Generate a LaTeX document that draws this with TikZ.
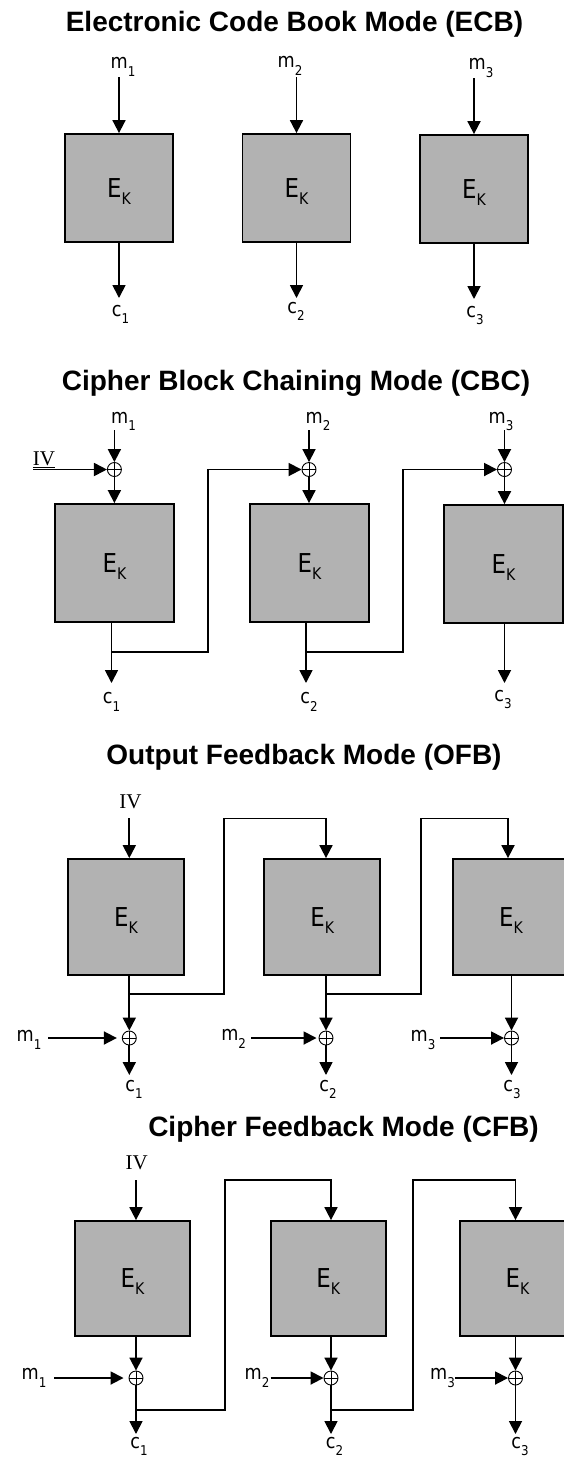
\documentclass[tikz,border=0pt]{standalone}
\usepackage{fontspec}
\setmainfont{Liberation Sans}
\newfontfamily\titlefont{Liberation Sans}
\newfontfamily\labfam[FakeStretch=0.88]{DejaVu Sans}
\newfontfamily\ivfam{Liberation Serif}
\usetikzlibrary{arrows.meta}
\definecolor{boxgray}{RGB}{178,178,178}
\newcommand{\Lab}[2]{#1\smash{\raisebox{-7.5pt}{\fontsize{13.5}{13.5}\selectfont #2}}}
\newcommand{\Ek}{E\smash{\raisebox{-7pt}{\fontsize{16}{16}\selectfont K}}}
\begin{document}
\begin{tikzpicture}[x=1pt,y=-1pt,
  arr/.style={line width=1.8pt, -{Triangle[length=13pt,width=13pt]}},
  ek/.style={draw=black, line width=1.8pt, fill=boxgray, inner sep=0pt, font={\labfam\fontsize{26}{26}\selectfont}},
  ecbbox/.style={ek, minimum width=108pt, minimum height=108pt},
  cbcbox/.style={ek, minimum width=119pt, minimum height=118pt},
  ofbbox/.style={ek, minimum width=116pt, minimum height=116pt},
  cfbbox/.style={ek, minimum width=115pt, minimum height=115pt},
  lab/.style={inner sep=0pt, font={\labfam\fontsize{20}{20}\selectfont}},
  ttl/.style={inner sep=0pt, anchor=base, font={\titlefont\bfseries\fontsize{28}{28}\selectfont}},
  ivlab/.style={inner sep=0pt, font={\ivfam\fontsize{21}{21}\selectfont}},
  xor/.style={circle, draw=black, line width=0.9pt, minimum size=14pt, inner sep=0pt,
    path picture={\draw[line width=0.9pt] (path picture bounding box.north) -- (path picture bounding box.south)
      (path picture bounding box.west) -- (path picture bounding box.east);}},
]
\useasboundingbox (0,0) rectangle (564,1460);
\clip (0,0) rectangle (564,1460);
\fill[white] (0,0) rectangle (564,1460);

% ================= ECB =================
\node[ttl] (tecb) at (294.5,31) {Electronic Code Book Mode (ECB)};
\node[lab] (em1) at (123,63) {\Lab{m}{1}};
\node[lab] (em2) at (290,62) {\Lab{m}{2}};
\node[lab] (em3) at (481,64) {\Lab{m}{3}};
\node[ecbbox] (eb1) at (119,188) {\Ek};
\node[ecbbox] (eb2) at (296.5,188) {\Ek};
\node[ecbbox] (eb3) at (474,189) {\Ek};
\coordinate (es1) at (119,77);
\coordinate (es2) at (296.5,77);
\coordinate (es3) at (474,78);
\draw[arr] (es1) -- (eb1.north);
\draw[arr] (es2) -- (eb2.north);
\draw[arr] (es3) -- (eb3.north);
\coordinate (ee1) at (119,298);
\coordinate (ee2) at (296.5,298);
\coordinate (ee3) at (474,299);
\draw[arr] (eb1.south) -- (ee1);
\draw[arr] (eb2.south) -- (ee2);
\draw[arr] (eb3.south) -- (ee3);
\node[lab] (ec1) at (120.5,311) {\Lab{c}{1}};
\node[lab] (ec2) at (296,308) {\Lab{c}{2}};
\node[lab] (ec3) at (475,312) {\Lab{c}{3}};

% ================= CBC =================
\node[ttl] (tcbc) at (296,390.5) {Cipher Block Chaining Mode (CBC)};
\node[lab] (cm1) at (123.5,417.5) {\Lab{m}{1}};
\node[lab] (cm2) at (318,417.5) {\Lab{m}{2}};
\node[lab] (cm3) at (501,417.5) {\Lab{m}{3}};
\node[xor] (cx1) at (114.4,469.5) {};
\node[xor] (cx2) at (309,469.5) {};
\node[xor] (cx3) at (504.5,469.5) {};
\coordinate (cs1) at (114.4,430);
\coordinate (cs2) at (309,430);
\coordinate (cs3) at (504.5,430);
\draw[arr] (cs1) -- (cx1);
\draw[arr] (cs2) -- (cx2);
\draw[arr] (cs3) -- (cx3);
\node[cbcbox] (cb1) at (114.5,563) {\Ek};
\node[cbcbox] (cb2) at (309.5,563) {\Ek};
\node[cbcbox] (cb3) at (503.5,564) {\Ek};
\draw[arr] (cx1) -- (cx1 |- cb1.north);
\draw[arr] (cx2) -- (cx2 |- cb2.north);
\draw[arr] (cx3) -- (cx3 |- cb3.north);
\node[ivlab, anchor=base] (civ) at (44,465) {\underline{IV}};
\coordinate (civs) at (33,469.5);
\draw[arr] (civs) -- (cx1);
\coordinate (co1) at (111.5,683);
\coordinate (co2) at (306,683);
\coordinate (co3) at (504.5,683);
\draw[arr] (co1 |- cb1.south) -- (co1);
\draw[arr] (co2 |- cb2.south) -- (co2);
\draw[arr] (co3 |- cb3.south) -- (co3);
\coordinate (cj1) at (111.5,652);
\coordinate (ck1) at (208,652);
\coordinate (cj2) at (306,652);
\coordinate (ck2) at (403,652);
\draw[arr] (cj1) -- (ck1) |- (cx2);
\draw[arr] (cj2) -- (ck2) |- (cx3);
\node[lab] (cc1) at (111.5,698.5) {\Lab{c}{1}};
\node[lab] (cc2) at (309,698.5) {\Lab{c}{2}};
\node[lab] (cc3) at (503,696) {\Lab{c}{3}};

% ================= OFB =================
\node[ttl] (tofb) at (304,764) {Output Feedback Mode (OFB)};
\node[ivlab] (oiv) at (130.5,801.5) {IV};
\node[ofbbox] (ob1) at (126,917) {\Ek};
\node[ofbbox] (ob2) at (322.3,917) {\Ek};
\node[ofbbox] (ob3) at (511,917) {\Ek};
\coordinate (os1) at (129.3,818);
\draw[arr] (os1) -- (os1 |- ob1.north);
\coordinate (oj1) at (129.3,994);
\coordinate (ok1) at (224,994);
\coordinate (ot1) at (326,818.5);
\coordinate (oj2) at (326,994);
\coordinate (ok2) at (421,994);
\coordinate (ot2) at (508,818.5);
\draw[arr] (oj1) -- (ok1) |- (ot1) -- (ot1 |- ob2.north);
\draw[arr] (oj2) -- (ok2) |- (ot2) -- (ot2 |- ob3.north);
\node[xor] (ox1) at (129.3,1038) {};
\node[xor] (ox2) at (326,1038) {};
\node[xor] (ox3) at (511.5,1038) {};
\draw[arr] (ox1 |- ob1.south) -- (ox1);
\draw[arr] (ox2 |- ob2.south) -- (ox2);
\draw[arr] (ox3 |- ob3.south) -- (ox3);
\node[lab] (om1) at (29,1036) {\Lab{m}{1}};
\node[lab] (om2) at (233.7,1035) {\Lab{m}{2}};
\node[lab] (om3) at (423,1036) {\Lab{m}{3}};
\coordinate (oma1) at (48,1038);
\coordinate (oma2) at (251,1038);
\coordinate (oma3) at (440,1038);
\draw[arr, shorten >=5pt] (oma1) -- (ox1);
\draw[arr, shorten >=2pt] (oma2) -- (ox2);
\draw[arr] (oma3) -- (ox3);
\coordinate (oe1) at (129.3,1075);
\coordinate (oe2) at (326,1075);
\coordinate (oe3) at (511.5,1075);
\draw[arr] (ox1) -- (oe1);
\draw[arr] (ox2) -- (oe2);
\draw[arr] (ox3) -- (oe3);
\node[lab] (oc1) at (134,1086) {\Lab{c}{1}};
\node[lab] (oc2) at (328,1086) {\Lab{c}{2}};
\node[lab] (oc3) at (512,1086) {\Lab{c}{3}};

% ================= CFB =================
\node[ttl] (tcfb) at (343.5,1136) {Cipher Feedback Mode (CFB)};
\node[ivlab] (fiv) at (136.7,1162.5) {IV};
\node[cfbbox] (fb1) at (132.5,1278.5) {\Ek};
\node[cfbbox] (fb2) at (328.2,1278.5) {\Ek};
\node[cfbbox] (fb3) at (517.5,1278.5) {\Ek};
\coordinate (fs1) at (136,1180);
\draw[arr] (fs1) -- (fs1 |- fb1.north);
\node[xor] (fx1) at (136,1378) {};
\node[xor] (fx2) at (331,1378) {};
\node[xor] (fx3) at (515.5,1378) {};
\draw[arr] (fx1 |- fb1.south) -- (fx1);
\draw[arr] (fx2 |- fb2.south) -- (fx2);
\draw[arr] (fx3 |- fb3.south) -- (fx3);
\node[lab] (fm1) at (34,1374) {\Lab{m}{1}};
\node[lab] (fm2) at (257,1374) {\Lab{m}{2}};
\node[lab] (fm3) at (442.5,1374) {\Lab{m}{3}};
\coordinate (fma1) at (54,1378);
\coordinate (fma2) at (270.5,1378);
\coordinate (fma3) at (455,1378);
\draw[arr, shorten >=5pt] (fma1) -- (fx1);
\draw[arr] (fma2) -- (fx2);
\draw[arr] (fma3) -- (fx3);
\coordinate (fe1) at (136,1434);
\coordinate (fe2) at (331,1434);
\coordinate (fe3) at (515.5,1434);
\draw[arr] (fx1) -- (fe1);
\draw[arr] (fx2) -- (fe2);
\draw[arr] (fx3) -- (fe3);
\coordinate (fj1) at (136,1410);
\coordinate (fk1) at (225,1410);
\coordinate (ft1) at (331,1180);
\coordinate (fj2) at (331,1410);
\coordinate (fk2) at (413,1410);
\coordinate (ft2) at (515.5,1180);
\draw[arr] (fj1) -- (fk1) |- (ft1) -- (ft1 |- fb2.north);
\draw[arr] (fj2) -- (fk2) |- (ft2) -- (ft2 |- fb3.north);
\node[lab] (fc1) at (139,1443) {\Lab{c}{1}};
\node[lab] (fc2) at (334.5,1443) {\Lab{c}{2}};
\node[lab] (fc3) at (520,1443) {\Lab{c}{3}};
\end{tikzpicture}
\end{document}
